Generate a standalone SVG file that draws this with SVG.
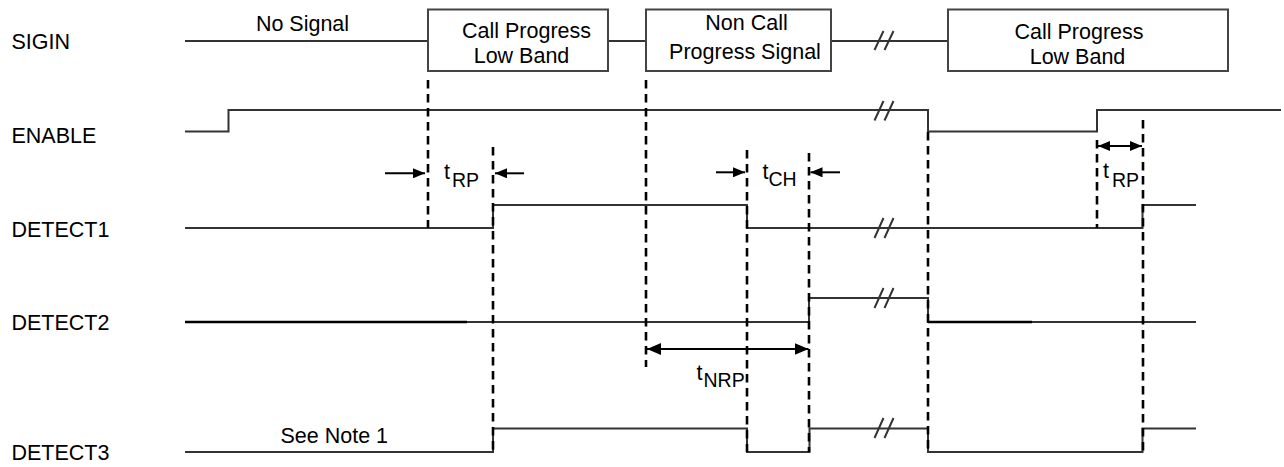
<svg xmlns="http://www.w3.org/2000/svg" width="1284" height="467" viewBox="0 0 1284 467">
<style>
text{font-family:"Liberation Sans",Arial,sans-serif;font-size:21.5px;fill:#000}
.c{text-anchor:middle}
.sig{fill:none;stroke:#333;stroke-width:2}
.thk{fill:none;stroke:#000;stroke-width:2.6}
.box{fill:#fff;stroke:#444;stroke-width:2}
.brk{stroke:#333;stroke-width:2;fill:none}
.dash{stroke:#000;stroke-width:2.6;stroke-dasharray:8.5 5.5;fill:none}
.arr{stroke:#000;stroke-width:2;fill:none}
.sub{font-size:19.5px}
</style>
<defs>
<marker id="ah" markerUnits="userSpaceOnUse" markerWidth="12" markerHeight="10" refX="12" refY="5" orient="auto-start-reverse"><path d="M0,0 L12,5 L0,10 z" fill="#000"/></marker>
<marker id="ahL" markerUnits="userSpaceOnUse" markerWidth="14" markerHeight="12" refX="14" refY="6" orient="auto-start-reverse"><path d="M0,0 L14,6 L0,12 z" fill="#000"/></marker>
</defs>
<rect width="1284" height="467" fill="#fff"/>

<g id="labels">
<text x="11.5" y="49">SIGIN</text>
<text x="11.5" y="142.5">ENABLE</text>
<text x="11.5" y="237">DETECT1</text>
<text x="11.5" y="330">DETECT2</text>
<text x="11.5" y="460">DETECT3</text>
</g>

<g id="sigin">
<path class="sig" d="M185,41 H428 M608,41 H646 M831,41 H948"/>
<path class="brk" d="M874.5,50 L883.5,31 M884.5,50 L893.5,31"/>
<text x="302.5" y="30.5" class="c">No Signal</text>
</g>
<g id="box1">
<rect class="box" x="428" y="9.5" width="180" height="61.5"/>
<text x="526.5" y="38" class="c">Call Progress</text>
<text x="521.5" y="63" class="c">Low Band</text>
</g>
<g id="box2">
<rect class="box" x="646" y="9.5" width="185" height="61.5"/>
<text x="746.5" y="30" class="c">Non Call</text>
<text x="745" y="58.5" class="c">Progress Signal</text>
</g>
<g id="box3">
<rect class="box" x="948" y="9.5" width="280" height="61.5"/>
<text x="1079" y="39" class="c">Call Progress</text>
<text x="1077.5" y="63.5" class="c">Low Band</text>
</g>

<g id="enable">
<path class="sig" d="M185,131.5 H228.5 V110 H928 V131.5 H1097 V110 H1281"/>
<path class="brk" d="M874.5,120.5 L883.5,101 M884.5,120.5 L893.5,101"/>
</g>

<g id="detect1">
<path class="sig" d="M185,228 H493 V205 H747 V228 H1142.5 V205 H1196"/>
<path class="brk" d="M874.5,238 L883.5,218 M884.5,238 L893.5,218"/>
</g>

<g id="detect2">
<path class="sig" d="M185,322 H809 V298 H928 V322 H1196"/>
<path class="thk" d="M185,322 H467 M928,322 H1032"/>
<path class="brk" d="M874.5,308 L883.5,288 M884.5,308 L893.5,288"/>
</g>

<g id="detect3">
<path class="sig" d="M185,452 H493 V428.5 H747 V452 H809.5 V428.5 H928 V452 H1142.5 V428.5 H1196"/>
<path class="brk" d="M874.5,438 L883.5,418 M884.5,438 L893.5,418"/>
<text x="280.5" y="443">See Note 1</text>
</g>

<g id="connectors">
<path class="dash" d="M428,80 V228"/>
<path class="dash" d="M493,147 V452"/>
<path class="dash" d="M646,80 V367"/>
<path class="dash" d="M747,150 V452"/>
<path class="dash" d="M809,153 V452"/>
<path class="dash" d="M928,132 V452"/>
<path class="dash" d="M1097,140 V228"/>
<path class="dash" d="M1143,120 V452"/>
<line class="arr" x1="385" y1="173.3" x2="425" y2="173.3" marker-end="url(#ah)"/>
<line class="arr" x1="524" y1="173.3" x2="495" y2="173.3" marker-end="url(#ah)"/>
<line class="arr" x1="716" y1="172.3" x2="745" y2="172.3" marker-end="url(#ah)"/>
<line class="arr" x1="840" y1="172.3" x2="810.5" y2="172.3" marker-end="url(#ah)"/>
<line class="arr" x1="1098" y1="146" x2="1142" y2="146" marker-start="url(#ah)" marker-end="url(#ah)"/>
<line class="arr" x1="647" y1="349" x2="808.5" y2="349" marker-start="url(#ahL)" marker-end="url(#ahL)"/>
</g>

<g id="timing-labels">
<text x="444" y="179">t<tspan class="sub" dx="2" dy="8">RP</tspan></text>
<text x="762.5" y="179">t<tspan class="sub" dy="7">CH</tspan></text>
<text x="1103" y="178">t<tspan class="sub" dx="3" dy="8.5">RP</tspan></text>
<text x="696.5" y="380">t<tspan class="sub" dx="1" dy="7">NRP</tspan></text>
</g>
</svg>
